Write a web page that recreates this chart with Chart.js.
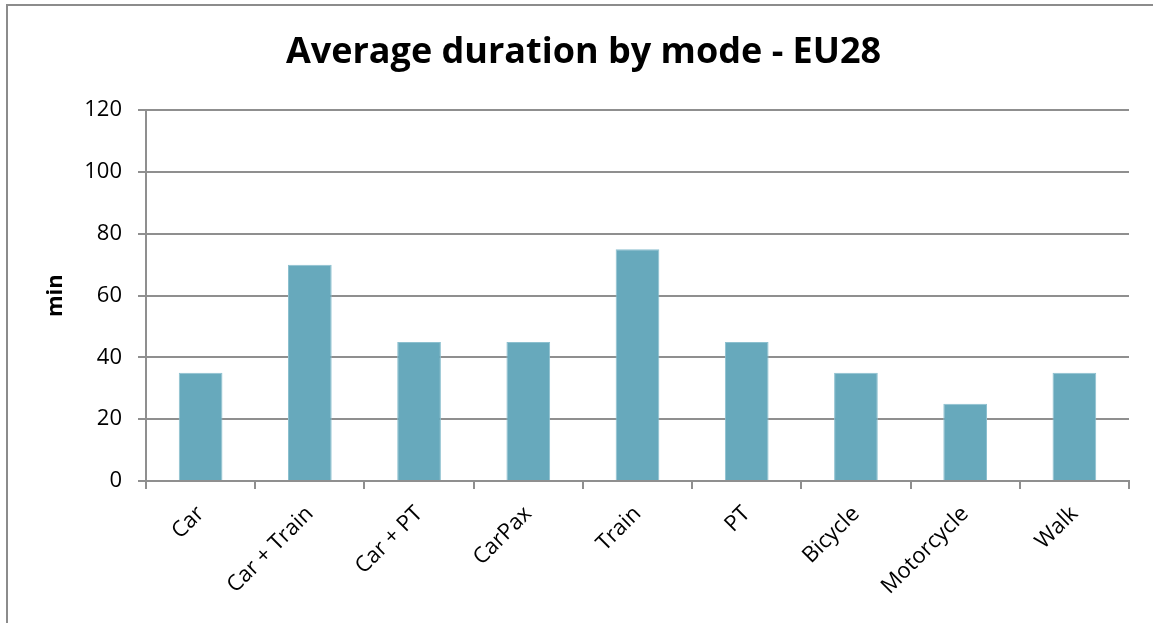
<!DOCTYPE html>
<html>
<head>
<meta charset="utf-8">
<script src="https://cdn.jsdelivr.net/npm/chart.js@4"></script>
<style>
  html, body { margin: 0; padding: 0; background: #fff; overflow: hidden; }
  #frame { position: absolute; left: 6px; top: 4px; width: 1170px; height: 660px; border: 2px solid #8c8c8c; box-sizing: border-box; }
  #wrap { position: absolute; left: 0; top: 0; width: 1153px; height: 623px; }
</style>
</head>
<body>
<div id="frame"></div>
<div id="wrap"><canvas id="durationChart"></canvas></div>
<script>
const modes = ['Car', 'Car + Train', 'Car + PT', 'CarPax', 'Train', 'PT', 'Bicycle', 'Motorcycle', 'Walk'];
const avgMinutes = [35, 70, 45, 45, 75, 45, 35, 25, 35];
const yTicks = [0, 20, 40, 60, 80, 100, 120];

const gridGrey = '#8f8f8f';
const ctx = document.getElementById('durationChart').getContext('2d');

const durationChart = new Chart(ctx, {
    type: 'bar',
    data: {
        labels: modes,
        datasets: [{
            label: 'min',
            data: avgMinutes,
            backgroundColor: '#67a9bc',
            borderColor: '#8cc0cf',
            borderWidth: 1,
            categoryPercentage: 1,
            barPercentage: 0.4
        }]
    },
    options: {
        responsive: true,
        maintainAspectRatio: false,
        animation: false,
        // left/right padding keeps the title centred where the original has it
        layout: { padding: { left: 38, right: 24, top: 0, bottom: 0 } },
        plugins: {
            legend: { display: false },
            tooltip: { enabled: false },
            title: {
                display: true,
                text: 'Average duration by mode - EU28',
                color: '#000',
                font: { family: 'Open Sans', size: 36, weight: 'bold', lineHeight: 1.2 },
                padding: { top: 31, bottom: 36 }
            }
        },
        scales: {
            x: {
                grid: { offset: true, drawOnChartArea: false, drawTicks: true, tickLength: 8, color: gridGrey, lineWidth: 2 },
                border: { display: true, color: gridGrey, width: 2 },
                ticks: {
                    color: '#000',
                    font: { family: 'Open Sans', size: 22 },
                    minRotation: 45,
                    maxRotation: 45,
                    padding: 12,
                    autoSkip: false
                },
                afterFit: function(scale) { scale.height = 142; }
            },
            y: {
                min: 0,
                max: 120,
                afterBuildTicks: function(scale) { scale.ticks = yTicks.map(v => ({ value: v })); },
                grid: { color: gridGrey, lineWidth: 2, drawTicks: true, tickLength: 8 },
                border: { display: true, color: gridGrey, width: 2 },
                ticks: {
                    color: '#000',
                    font: { family: 'Open Sans', size: 22 },
                    padding: 16
                },
                title: {
                    display: true,
                    text: 'min',
                    color: '#000',
                    font: { family: 'Open Sans', size: 22, weight: 'bold' },
                    padding: { top: 5, bottom: 0 }
                },
                afterFit: function(scale) { scale.width = 108; }
            }
        }
    }
});
</script>
</body>
</html>
